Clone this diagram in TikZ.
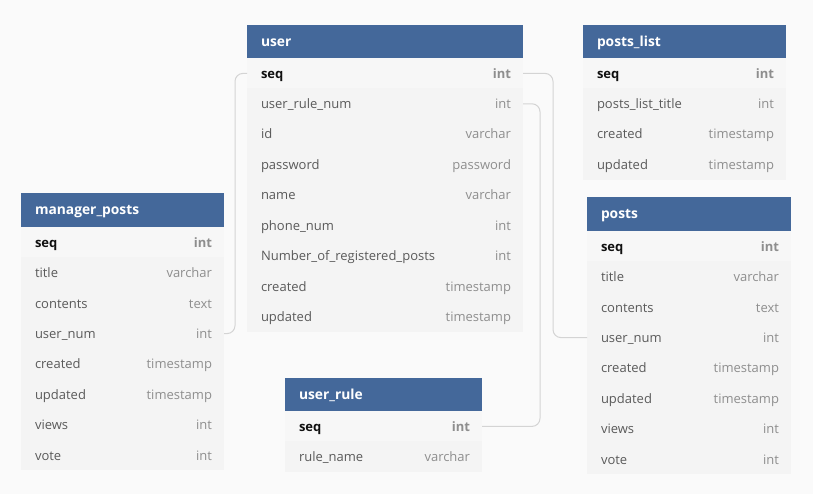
\documentclass[tikz,border=0pt]{standalone}
\usepackage{fontspec}
\setmainfont{Open Sans}
\definecolor{bgcol}{HTML}{FAFAFA}
\definecolor{hdrcol}{HTML}{44689A}
\definecolor{bodycol}{HTML}{F4F4F4}
\definecolor{seqcol}{HTML}{F7F7F7}
\definecolor{fldcol}{HTML}{5A5A5A}
\definecolor{typcol}{HTML}{8E8E8E}
\definecolor{keycol}{HTML}{111111}
\definecolor{conncol}{HTML}{D4D4D4}
\tikzset{
  rowtext/.style={inner sep=0pt, outer sep=0pt, text height=12.6pt, text depth=3pt, font=\fontsize{13}{15}\selectfont},
  fldtext/.style={rowtext, text=fldcol, anchor=west},
  typtext/.style={rowtext, text=typcol, anchor=east},
  keytext/.style={rowtext, text=keycol, anchor=west, font=\fontsize{13}{15}\selectfont\bfseries},
  keytype/.style={rowtext, text=typcol, anchor=east, font=\fontsize{13}{15}\selectfont\bfseries},
  hdrtext/.style={inner sep=0pt, outer sep=0pt, text=white, anchor=west, text height=13pt, text depth=3.2pt, font=\fontsize{13.8}{15}\selectfont\bfseries},
  hdrbox/.style={fill=hdrcol, draw=none, inner sep=0pt, outer sep=0pt, anchor=north west},
  bodybox/.style={fill=bodycol, draw=none, inner sep=0pt, outer sep=0pt, anchor=north west},
  seqbox/.style={fill=seqcol, draw=none, inner sep=0pt, outer sep=0pt, anchor=north west},
  conn/.style={draw=conncol, line width=1pt, rounded corners=8pt},
}
% #1 id, #2 left, #3 right, #4 header top, #5 header bottom, #6 number of extra fields, #7 title, #8 fields
\newcommand\ertable[8]{%
  \node[hdrbox, minimum width={(#3-#2)*1pt}, minimum height={(#5-#4)*1pt}] (#1-head) at (#2,#4) {};
  \node[hdrtext] (#1-title) at ({#2+14},{(#4+#5)/2}) {#7};
  \node[bodybox, minimum width={(#3-#2)*1pt}, minimum height={(#6+1)*30.4pt}] (#1) at (#2,#5) {};
  \node[seqbox, minimum width={(#3-#2)*1pt}, minimum height=30.4pt] (#1-seqrow) at (#2,#5) {};
  \node[keytext] (#1-seq) at ({#2+14},{#5+15.4}) {seq};
  \node[keytype] (#1-seq-t) at ({#3-12},{#5+15.4}) {int};
  \foreach \lab/\typ [count=\i] in {#8} {
    \node[fldtext] (#1-\i) at ({#2+14},{#5+15.4+\i*30.4}) {\lab};
    \node[typtext] (#1-\i-t) at ({#3-12},{#5+15.4+\i*30.4}) {\typ};
  }%
}
\begin{document}
\begin{tikzpicture}[x=1pt,y=-1pt]
\fill[bgcol] (0,0) rectangle (813,494);
\useasboundingbox (0,0) rectangle (813,494);

\ertable{user}{247}{523}{25}{58}{8}{user}{user\_rule\_num/int, id/varchar, password/password, name/varchar, phone\_num/int, Number\_of\_registered\_posts/int, created/timestamp, updated/timestamp}

\ertable{mp}{21}{224}{193}{227}{7}{manager\_posts}{title/varchar, contents/text, user\_num/int, created/timestamp, updated/timestamp, views/int, vote/int}

\ertable{pl}{583}{786}{25}{58}{3}{posts\_list}{posts\_list\_title/int, created/timestamp, updated/timestamp}

\ertable{posts}{587}{791}{197}{231}{7}{posts}{title/varchar, contents/text, user\_num/int, created/timestamp, updated/timestamp, views/int, vote/int}

\ertable{ur}{285}{482}{378}{411}{1}{user\_rule}{rule\_name/varchar}

\coordinate (b1) at (553,0);
\coordinate (b2) at (540,0);
\coordinate (b3) at (235,0);

\draw[conn] (user.east |- user-seq) -- (b1 |- user-seq) -- (b1 |- posts-3) -- (posts.west |- posts-3);
\draw[conn] (user.east |- user-1) -- (b2 |- user-1) -- (b2 |- ur-seq) -- (ur.east |- ur-seq);
\draw[conn] (mp.east |- mp-3) -- (b3 |- mp-3) -- (b3 |- user-seq) -- (user.west |- user-seq);
\end{tikzpicture}
\end{document}
